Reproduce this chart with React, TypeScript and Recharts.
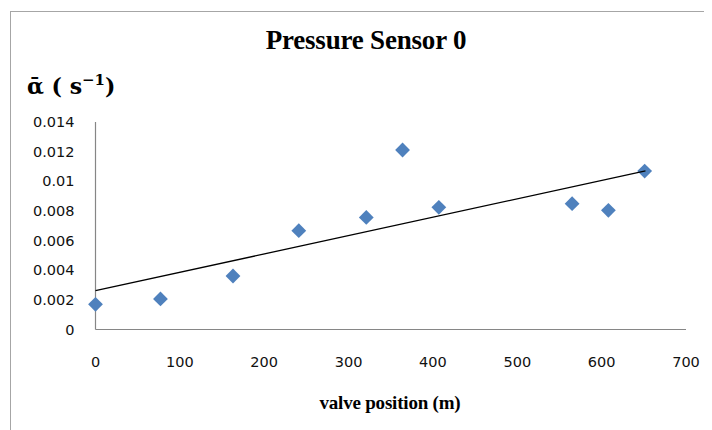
import React from 'react';
import { ScatterChart, Scatter, XAxis, YAxis } from 'recharts';

const positions = [0, 77, 163, 241, 321, 364, 407, 565, 608, 651];
const alphaValues = [0.0017, 0.00206, 0.00361, 0.00667, 0.00756, 0.01211, 0.00824, 0.00849, 0.00804, 0.01069];
const trendX = [0, 652];
const trendY = [0.00262, 0.0107];
const xTicks = [0, 100, 200, 300, 400, 500, 600, 700];
const yTicks = [0, 0.002, 0.004, 0.006, 0.008, 0.01, 0.012, 0.014];
const yTickLabels = ['0', '0.002', '0.004', '0.006', '0.008', '0.01', '0.012', '0.014'];

const points = positions.map((x, i) => ({ x, y: alphaValues[i] }));
const trend = trendX.map((x, i) => ({ x, y: trendY[i] }));

const Diamond = (props: any) => {
  const { cx, cy } = props;
  if (cx == null || cy == null) return <g />;
  const r = 7.4;
  return (
    <polygon
      points={`${cx},${cy - r} ${cx + r},${cy} ${cx},${cy + r} ${cx - r},${cy}`}
      fill="#4F81BD"
    />
  );
};

const NoShape = () => <g />;

const tickStyle = { fontFamily: 'DejaVu Sans, Verdana, sans-serif', fontSize: 14.5, fill: '#111' };

export default function App() {
  return (
    <div style={{ position: 'relative', width: 704, height: 422 }}>
      <div
        style={{
          position: 'absolute',
          left: 2,
          top: 3,
          width: 702,
          height: 419,
          borderTop: '1.5px solid #a6a6a6',
          borderLeft: '1.5px solid #a6a6a6',
          boxSizing: 'border-box',
        }}
      />
      <div
        style={{
          position: 'absolute',
          left: 208,
          top: 16,
          width: 300,
          height: 32,
          lineHeight: '32px',
          textAlign: 'center',
          fontFamily: 'Liberation Serif, serif',
          fontWeight: 'bold',
          fontSize: 27,
          letterSpacing: -0.2,
          whiteSpace: 'nowrap',
          color: '#000',
        }}
      >
        Pressure Sensor 0
      </div>
      <div
        style={{
          position: 'absolute',
          left: 19,
          top: 63,
          height: 30,
          lineHeight: '30px',
          fontFamily: 'DejaVu Serif, Liberation Serif, serif',
          fontWeight: 'bold',
          fontSize: 22,
          whiteSpace: 'nowrap',
          color: '#000',
        }}
      >
        {'ᾱ\u00a0(\u00a0s'}
        <sup style={{ fontSize: 15, verticalAlign: 'top', lineHeight: '18px' }}>−1</sup>
        {')'}
      </div>
      <div
        style={{
          position: 'absolute',
          left: 232,
          top: 383,
          width: 300,
          height: 24,
          lineHeight: '24px',
          textAlign: 'center',
          fontFamily: 'Liberation Serif, serif',
          fontWeight: 'bold',
          fontSize: 19,
          letterSpacing: -0.2,
          whiteSpace: 'nowrap',
          color: '#000',
        }}
      >
        valve position (m)
      </div>
      <div style={{ position: 'absolute', left: 0, top: 0 }}>
        <ScatterChart width={704} height={422} margin={{ top: 114, right: 26, bottom: 0, left: 0 }}>
          <XAxis
            type="number"
            dataKey="x"
            domain={[0, 700]}
            ticks={xTicks}
            height={100.5}
            axisLine={{ stroke: '#868686', strokeWidth: 1.2 }}
            tickLine={false}
            tickSize={0}
            tickMargin={27}
            tick={tickStyle}
            interval={0}
          />
          <YAxis
            type="number"
            dataKey="y"
            domain={[0, 0.014]}
            ticks={yTicks}
            width={87.5}
            axisLine={{ stroke: '#868686', strokeWidth: 1.2 }}
            tickLine={false}
            tickSize={0}
            tickMargin={21}
            tick={tickStyle}
            interval={0}
            tickFormatter={(v: number) => yTickLabels[yTicks.indexOf(v)] ?? String(v)}
          />
          <Scatter data={points} shape={Diamond} isAnimationActive={false} />
          <Scatter
            data={trend}
            line={{ stroke: '#000', strokeWidth: 1.3 }}
            lineType="joint"
            shape={NoShape}
            isAnimationActive={false}
          />
        </ScatterChart>
      </div>
    </div>
  );
}
